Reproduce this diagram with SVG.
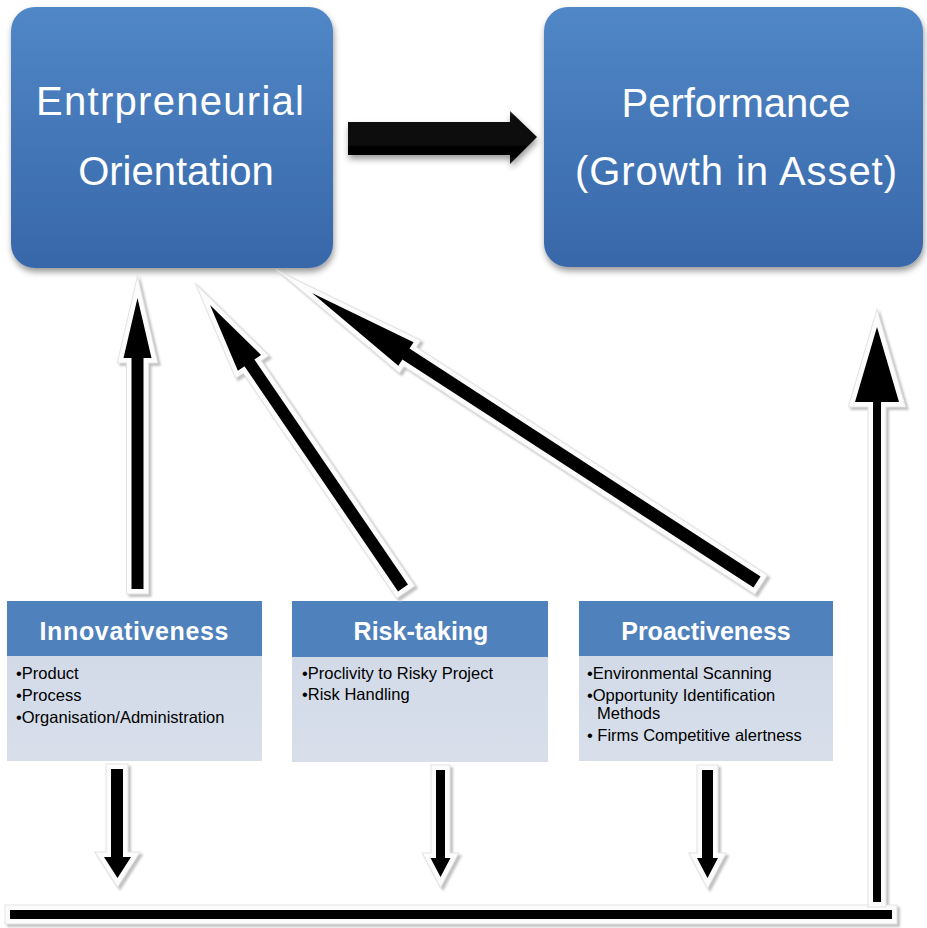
<svg xmlns="http://www.w3.org/2000/svg" xmlns:xlink="http://www.w3.org/1999/xlink" width="927" height="928" viewBox="0 0 927 928">
  <defs>
    <linearGradient id="boxFill" x1="0" y1="0" x2="0" y2="1">
      <stop offset="0" stop-color="#5087c7"/>
      <stop offset="1" stop-color="#3867a9"/>
    </linearGradient>
    <linearGradient id="bodyFill" x1="0" y1="0" x2="0" y2="1">
      <stop offset="0" stop-color="#cfd7e6"/>
      <stop offset="1" stop-color="#d8dfeb"/>
    </linearGradient>
    <linearGradient id="bevel" x1="0" y1="0" x2="0" y2="1">
      <stop offset="0" stop-color="#3a3a3a"/>
      <stop offset="0.1" stop-color="#111111"/>
      <stop offset="0.85" stop-color="#030303"/>
      <stop offset="1" stop-color="#1c1c1c"/>
    </linearGradient>
    <filter id="boxShadow" x="-10%" y="-10%" width="125%" height="125%">
      <feDropShadow dx="1" dy="4" stdDeviation="3" flood-color="#000" flood-opacity="0.4"/>
    </filter>
    <filter id="soft" x="-10%" y="-10%" width="125%" height="125%">
      <feGaussianBlur stdDeviation="0.8"/>
    </filter>

    <!-- arrow outlines (black body), reused for shadow, rim and fill layers -->
    <path id="aInnov" d="M131.5,589 V358 H123.5 L137.5,298 L151.5,358 H143.5 V589 Z"/>
    <path id="aRisk" d="M407.96,584.62 L254.41,359.46 L261.02,354.95 L210,305 L237.88,370.73 L244.49,366.22 L398.04,591.38 Z"/>
    <path id="aProact" d="M760.54,576.55 L409.47,348.55 L413.56,342.26 L312,293 L398.30,365.74 L402.39,359.45 L753.46,587.45 Z"/>
    <path id="aPerf" d="M873,902 V402 H855 L877,327 L899,402 H881 V902 Z"/>
    <path id="dInnov" d="M111,769 V857 H104 L117.5,878 L131,857 H123 V769 Z"/>
    <path id="dRisk" d="M436,770 V858 H430.5 L440.5,877 L450.5,858 H445 V770 Z"/>
    <path id="dProact" d="M702,770 V858 H697 L707.5,878 L718,858 H713 V770 Z"/>
    <path id="bar" d="M10,910 H892 V919 H10 Z"/>
  </defs>

  <style>
    .box { fill: url(#boxFill); filter: url(#boxShadow); }
    .big { font-family: "Liberation Sans", Arial, sans-serif; font-size: 40px; fill: #ffffff; text-anchor: middle; }
    .head { fill: #4f81bd; }
    .body { fill: url(#bodyFill); }
    .title { font-family: "Liberation Sans", Arial, sans-serif; font-size: 25px; font-weight: bold; fill: #ffffff; text-anchor: middle; }
    .item { font-family: "Liberation Sans", Arial, sans-serif; font-size: 16.5px; fill: #000000; }
    .shadow { fill: #c2c2c2; stroke: #c2c2c2; stroke-width: 11; stroke-linejoin: miter; stroke-miterlimit: 12; }
    .rim { fill: #e3e3e3; stroke: #e3e3e3; stroke-width: 11; stroke-linejoin: miter; stroke-miterlimit: 12; }
    .white { fill: #fcfcfc; stroke: #fcfcfc; stroke-width: 9; stroke-linejoin: miter; stroke-miterlimit: 12; }
    .ink { fill: #000000; }
  </style>

  <rect width="927" height="928" fill="#ffffff"/>

  <!-- main constructs -->
  <g id="entrepreneurial-orientation">
    <rect class="box" x="11" y="7" width="322" height="261" rx="24"/>
    <text class="big" x="170" y="115" textLength="268">Entrpreneurial</text>
    <text class="big" x="176" y="185">Orientation</text>
  </g>

  <g id="performance">
    <rect class="box" x="544" y="7" width="379" height="260" rx="24"/>
    <text class="big" x="736" y="117">Performance</text>
    <text class="big" x="736" y="185" textLength="322">(Growth in Asset)</text>
  </g>

  <!-- dimensions -->
  <g id="innovativeness">
    <rect class="body" x="7" y="601" width="255" height="160"/>
    <rect class="head" x="7" y="601" width="255" height="55"/>
    <text class="title" x="134" y="640" textLength="189">Innovativeness</text>
    <text class="item" x="16" y="679">•Product</text>
    <text class="item" x="16" y="701">•Process</text>
    <text class="item" x="16" y="723">•Organisation/Administration</text>
  </g>

  <g id="risk-taking">
    <rect class="body" x="292" y="601" width="256" height="161"/>
    <rect class="head" x="292" y="601" width="256" height="56"/>
    <text class="title" x="421" y="640">Risk-taking</text>
    <text class="item" x="302" y="679">•Proclivity to Risky Project</text>
    <text class="item" x="302" y="700">•Risk Handling</text>
  </g>

  <g id="proactiveness">
    <rect class="body" x="579" y="601" width="254" height="160"/>
    <rect class="head" x="579" y="601" width="254" height="55"/>
    <text class="title" x="706" y="640">Proactiveness</text>
    <text class="item" x="587" y="679">•Environmental Scanning</text>
    <text class="item" x="587" y="701">•Opportunity Identification</text>
    <text class="item" x="597" y="719">Methods</text>
    <text class="item" x="587" y="741">• Firms Competitive alertness</text>
  </g>

  <!-- connectors -->
  <g id="connectors">
    <!-- EO to performance -->
    <path d="M348,122 H510 V111 L537,137 L510,164 V155 H348 Z" fill="url(#bevel)" filter="url(#boxShadow)"/>

    <!-- shadow layer -->
    <g transform="translate(2.5,2.5)" filter="url(#soft)">
      <use xlink:href="#aInnov" class="shadow"/>
      <use xlink:href="#aRisk" class="shadow"/>
      <use xlink:href="#aProact" class="shadow"/>
      <use xlink:href="#bar" class="shadow"/>
      <use xlink:href="#aPerf" class="shadow"/>
      <use xlink:href="#dInnov" class="shadow"/>
      <use xlink:href="#dRisk" class="shadow"/>
      <use xlink:href="#dProact" class="shadow"/>
    </g>

    <!-- white rim -->
    <g>
      <use xlink:href="#aInnov" class="rim"/>
      <use xlink:href="#aInnov" class="white"/>
      <use xlink:href="#aRisk" class="rim"/>
      <use xlink:href="#aRisk" class="white"/>
      <use xlink:href="#aProact" class="rim"/>
      <use xlink:href="#aProact" class="white"/>
      <use xlink:href="#bar" class="rim"/>
      <use xlink:href="#bar" class="white"/>
      <use xlink:href="#aPerf" class="rim"/>
      <use xlink:href="#aPerf" class="white"/>
      <use xlink:href="#dInnov" class="rim"/>
      <use xlink:href="#dInnov" class="white"/>
      <use xlink:href="#dRisk" class="rim"/>
      <use xlink:href="#dRisk" class="white"/>
      <use xlink:href="#dProact" class="rim"/>
      <use xlink:href="#dProact" class="white"/>
    </g>

    <!-- black bodies -->
    <g class="ink">
      <use xlink:href="#aInnov"/>
      <use xlink:href="#aRisk"/>
      <use xlink:href="#aProact"/>
      <use xlink:href="#bar"/>
      <use xlink:href="#aPerf"/>
      <use xlink:href="#dInnov"/>
      <use xlink:href="#dRisk"/>
      <use xlink:href="#dProact"/>
    </g>
  </g>
</svg>
